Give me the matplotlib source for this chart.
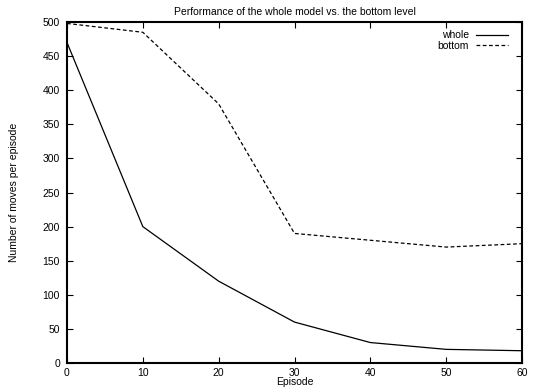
import matplotlib
matplotlib.use('Agg')
import matplotlib.pyplot as plt

episodes = [0, 10, 20, 30, 40, 50, 60]
whole = [470, 200, 120, 60, 30, 20, 18]
bottom = [498, 485, 380, 190, 180, 170, 175]

plt.rcParams['font.family'] = ['Liberation Sans', 'DejaVu Sans']
plt.rcParams['font.size'] = 7.5

fig = plt.figure(figsize=(5.33, 3.87), dpi=100)
ax = fig.add_axes([0.1257, 0.062, 0.8537, 0.881])

ax.plot(episodes, whole, color='black', lw=0.9, label='whole')
ax.plot(episodes, bottom, color='black', lw=0.9, ls=(0, (3, 2)), label='bottom')

ax.set_xlim(0, 60)
ax.set_ylim(0, 500)
ax.set_xticks(range(0, 61, 10))
ax.set_yticks(range(0, 501, 50))
ax.tick_params(direction='in', top=True, right=True, length=4, width=0.8)
ax.tick_params(axis='y', pad=5)
ax.tick_params(axis='x', pad=3.5)
for s in ax.spines.values():
    s.set_linewidth(1.5)

ax.set_title('Performance of the whole model vs. the bottom level', fontsize=7.5, pad=5)
ax.set_xlabel('Episode', labelpad=-0.5)
ax.set_ylabel('Number of moves per episode', labelpad=17)

ax.legend(loc='upper right', bbox_to_anchor=(0.975, 0.985), frameon=False, markerfirst=False,
          handlelength=3.0, handletextpad=0.7, labelspacing=0.05, borderaxespad=0,
          borderpad=0.3, fontsize=7.5)
for t in ax.get_legend().get_texts():
    t.set_ha('right')

fig.savefig('out.png', dpi=100)
